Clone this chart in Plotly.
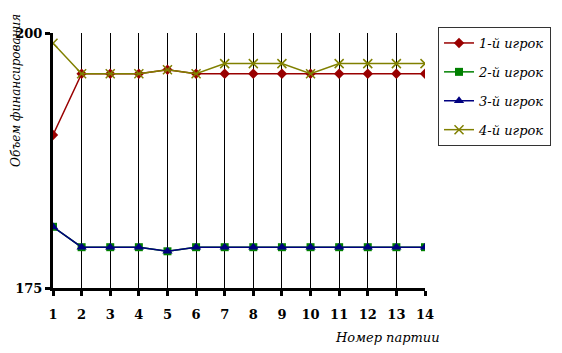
import plotly.graph_objects as go

games = list(range(1, 15))
player1 = [190, 196, 196, 196, 196.4, 196, 196, 196, 196, 196, 196, 196, 196, 196]
player2 = [181, 179, 179, 179, 178.6, 179, 179, 179, 179, 179, 179, 179, 179, 179]
player3 = [181, 179, 179, 179, 178.6, 179, 179, 179, 179, 179, 179, 179, 179, 179]
player4 = [199, 196, 196, 196, 196.4, 196, 197, 197, 197, 196, 197, 197, 197, 197]
names = ["1-й игрок", "2-й игрок", "3-й игрок", "4-й игрок"]
ytick_vals = [175, 200]

serif = "DejaVu Serif"

fig = go.Figure()
specs = [
    (player1, "#990000", "diamond", 8),
    (player2, "#008000", "square", 8),
    (player3, "#000080", "triangle-up", 9),
    (player4, "#808000", "x-thin-open", 9),
]
for i, (name, (vals, color, sym, size)) in enumerate(zip(names, specs)):
    mk = dict(symbol=sym, size=size, color=color)
    if sym == "x-thin-open":
        mk["line"] = dict(color=color, width=1.5)
    fig.add_trace(go.Scatter(
        x=games, y=vals, name=name, mode="lines+markers", legendgroup=f"g{i}",
        line=dict(color=color, width=1.5), marker=mk,
    ))

fig.update_layout(
    template="none",
    width=562, height=353,
    margin=dict(l=53, r=137, t=33, b=65, autoexpand=False),
    paper_bgcolor="white", plot_bgcolor="white",
    font=dict(family=serif, color="black", size=13),
    showlegend=True,
    legend=dict(
        x=1.035, y=1.0235, xanchor="left", yanchor="top",
        bordercolor="#333333", borderwidth=1, tracegroupgap=9,
        font=dict(family=serif, size=13, style="italic"),
        bgcolor="white",
    ),
    xaxis=dict(
        range=[1, 14], tickvals=games, ticktext=[f"<b>{g}</b>" for g in games],
        showgrid=True, gridcolor="black", gridwidth=1,
        showline=True, linecolor="black", linewidth=3,
        ticks="outside", ticklen=5, tickwidth=3, tickcolor="black",
        ticklabelstandoff=7,
        zeroline=False, tickfont=dict(size=13, family=serif),
    ),
    yaxis=dict(
        range=[175, 200], tickvals=ytick_vals, ticktext=[f"<b>{v}</b>" for v in ytick_vals],
        showgrid=True, gridcolor="black", gridwidth=1.5,
        showline=True, linecolor="black", linewidth=3,
        ticks="outside", ticklen=5, tickwidth=3, tickcolor="black",
        zeroline=False, tickfont=dict(size=13, family=serif),
    ),
    annotations=[
        dict(text="Объем финансирования", textangle=-90, xref="paper", yref="paper",
             x=-0.1, y=0.776, xanchor="center", yanchor="middle", showarrow=False,
             font=dict(family=serif, size=12, style="italic")),
        dict(text="Номер партии", xref="paper", yref="paper",
             x=1.045, y=-0.196, xanchor="right", yanchor="middle", showarrow=False,
             font=dict(family=serif, size=13, style="italic")),
    ],
)

fig.write_html("out.html")
